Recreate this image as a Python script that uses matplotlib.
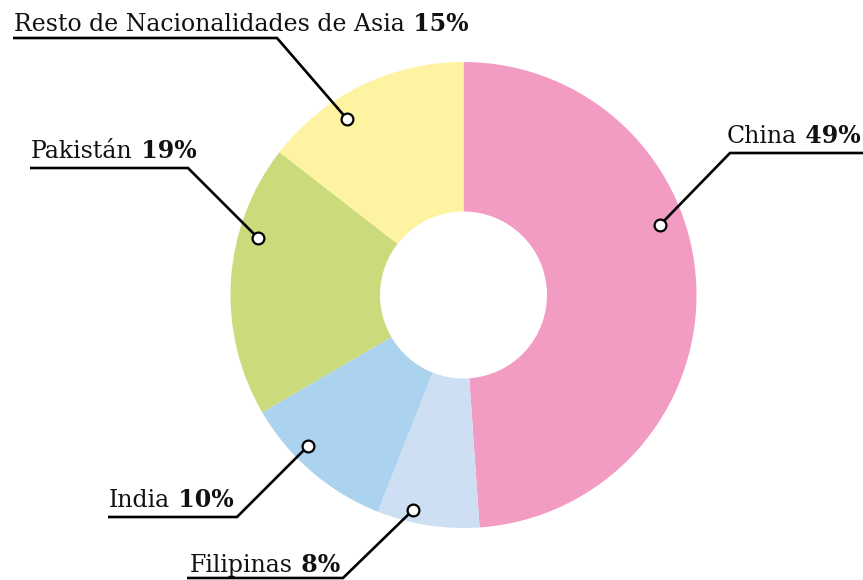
import matplotlib
matplotlib.use('Agg')
import matplotlib.pyplot as plt

# ---- data ----
categories = ['China', 'Filipinas', 'India', 'Pakistán', 'Resto de Nacionalidades de Asia']
shares = [48.9, 7.1, 10.6, 18.9, 14.5]          # angular share
pct_labels = ['49%', '8%', '10%', '19%', '15%']   # printed labels
colors = ['#F29BC3', '#CFDFF3', '#ABD3F0', '#CBDB7B', '#FDF3A0']

# ---- layout (pixel coords, y measured from top) ----
W, H = 863, 580
# text_x, baseline_y, underline_x0, elbow_x, underline_y, dot_x, dot_y
layout = {
    'China':     (727, 143, 730, 730, 153, 660, 225),
    'Filipinas': (190, 572, 187, 343, 578, 413, 510),
    'India':     (109, 507, 108, 237, 517, 308, 446),
    'Pakistán':  (31, 158, 30, 188, 168, 258, 238),
    'Resto de Nacionalidades de Asia': (14, 31, 13, 277, 38, 347, 119),
}
china_underline_end = 863

FONT = 'DejaVu Serif'
FS = 17

fig = plt.figure(figsize=(W / 100, H / 100), dpi=100)
ax = fig.add_axes([0, 0, 1, 1])
cx, cy = 463.5, H - 295
R, r = 233, 83.5
ax.pie(shares, colors=colors, startangle=90, counterclock=False,
       center=(cx, cy), radius=R,
       wedgeprops=dict(width=R - r, linewidth=0))
ax.set_xlim(0, W)
ax.set_ylim(0, H)
ax.set_aspect('equal')
ax.axis('off')

for cat, pct in zip(categories, pct_labels):
    tx, by, ux0, ex, uy, dx, dy = layout[cat]
    t1 = ax.text(tx, H - by, cat, fontsize=FS, family=FONT, color='#111111',
                 ha='left', va='baseline')
    ax.annotate(' ' + pct, xy=(1, 0), xycoords=t1, fontsize=FS, family=FONT,
                fontweight='bold', color='#111111', ha='left', va='bottom')
    if cat == 'China':
        xs = [china_underline_end, ex, dx]
    else:
        xs = [ux0, ex, dx]
    ys = [H - uy, H - uy, H - dy]
    ax.plot(xs, ys, color='black', lw=1.9, solid_joinstyle='miter',
            solid_capstyle='butt', zorder=3)
    ax.plot([dx], [H - dy], marker='o', ms=8.5, mfc='white', mec='black',
            mew=1.6, zorder=4)

fig.savefig('out.png', dpi=100)
